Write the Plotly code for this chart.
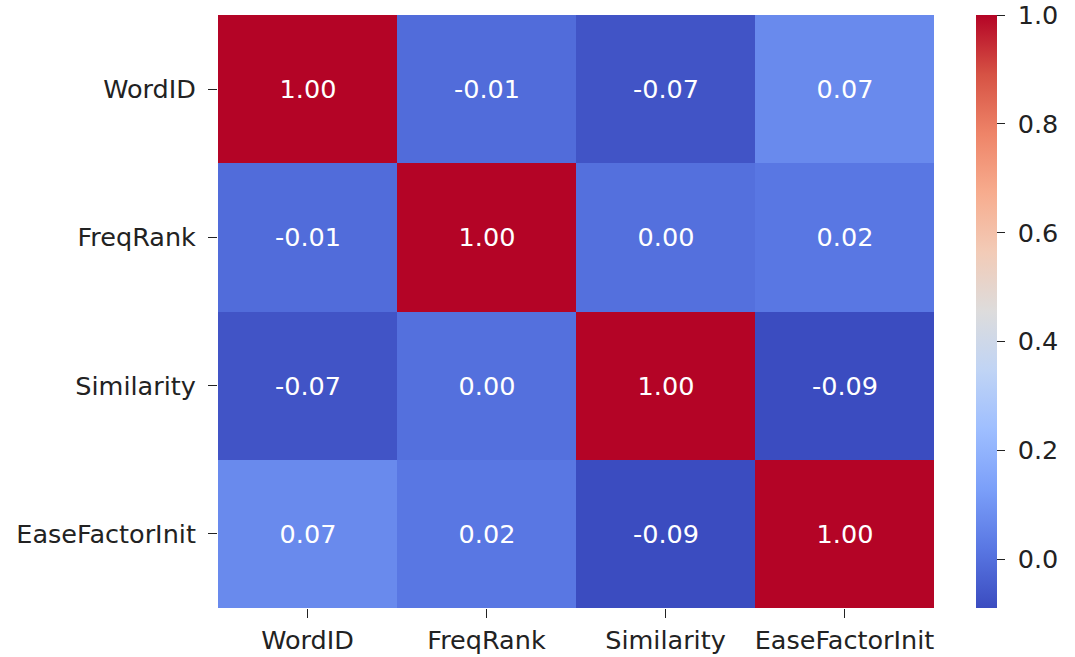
import plotly.graph_objects as go

# Correlation matrix of the word features
labels = ["WordID", "FreqRank", "Similarity", "EaseFactorInit"]
corr = [
    [1.00, -0.01, -0.07, 0.07],
    [-0.01, 1.00, 0.00, 0.02],
    [-0.07, 0.00, 1.00, -0.09],
    [0.07, 0.02, -0.09, 1.00],
]
cbar_ticks = [0.0, 0.2, 0.4, 0.6, 0.8, 1.0]

# coolwarm diverging colour map
coolwarm = [
    [0.0, "#3b4cc0"], [0.1, "#5977e3"], [0.2, "#7b9ff9"], [0.3, "#9ebeff"],
    [0.4, "#c0d4f5"], [0.5, "#dddcdc"], [0.6, "#f2cbb7"], [0.7, "#f7ac8e"],
    [0.8, "#ee8468"], [0.9, "#d65244"], [1.0, "#b40426"],
]

zmin = min(min(r) for r in corr)
zmax = max(max(r) for r in corr)

W, H = 1075, 657
L, R, T, B = 218, 141, 15, 49
plot_w = W - L - R
FS = 25.5
FONT = "DejaVu Sans"
INK = "#222"

fig = go.Figure(
    go.Heatmap(
        z=corr,
        x=labels,
        y=labels,
        colorscale=coolwarm,
        zmin=zmin,
        zmax=zmax,
        texttemplate="%{z:.2f}",
        textfont=dict(color="white", size=FS, family=FONT),
        hoverongaps=False,
        colorbar=dict(
            x=(976 - L) / plot_w,
            xanchor="left",
            xpad=0,
            ypad=0,
            y=0,
            yanchor="bottom",
            len=1,
            lenmode="fraction",
            thickness=21,
            outlinewidth=0,
            tickvals=cbar_ticks,
            ticktext=["\u00a0" + f"{v:.1f}" for v in cbar_ticks],
            ticklabeloverflow="allow",
            ticks="outside",
            ticklen=8,
            tickwidth=1.3,
            tickcolor=INK,
            tickfont=dict(size=FS, family=FONT, color=INK),
        ),
    )
)

axis_style = dict(
    ticks="outside", ticklen=9, tickwidth=1.3, tickcolor=INK,
    showgrid=False, zeroline=False, showline=False, automargin=False,
    tickfont=dict(size=FS, family=FONT, color=INK),
)

fig.update_layout(
    width=W,
    height=H,
    margin=dict(l=L, r=R, t=T, b=B, autoexpand=False),
    paper_bgcolor="white",
    plot_bgcolor="white",
    font=dict(family=FONT, size=FS, color=INK),
    xaxis=dict(ticklabelstandoff=0, **axis_style),
    yaxis=dict(autorange="reversed", ticklabelstandoff=7, **axis_style),
)

fig.write_html("out.html")
